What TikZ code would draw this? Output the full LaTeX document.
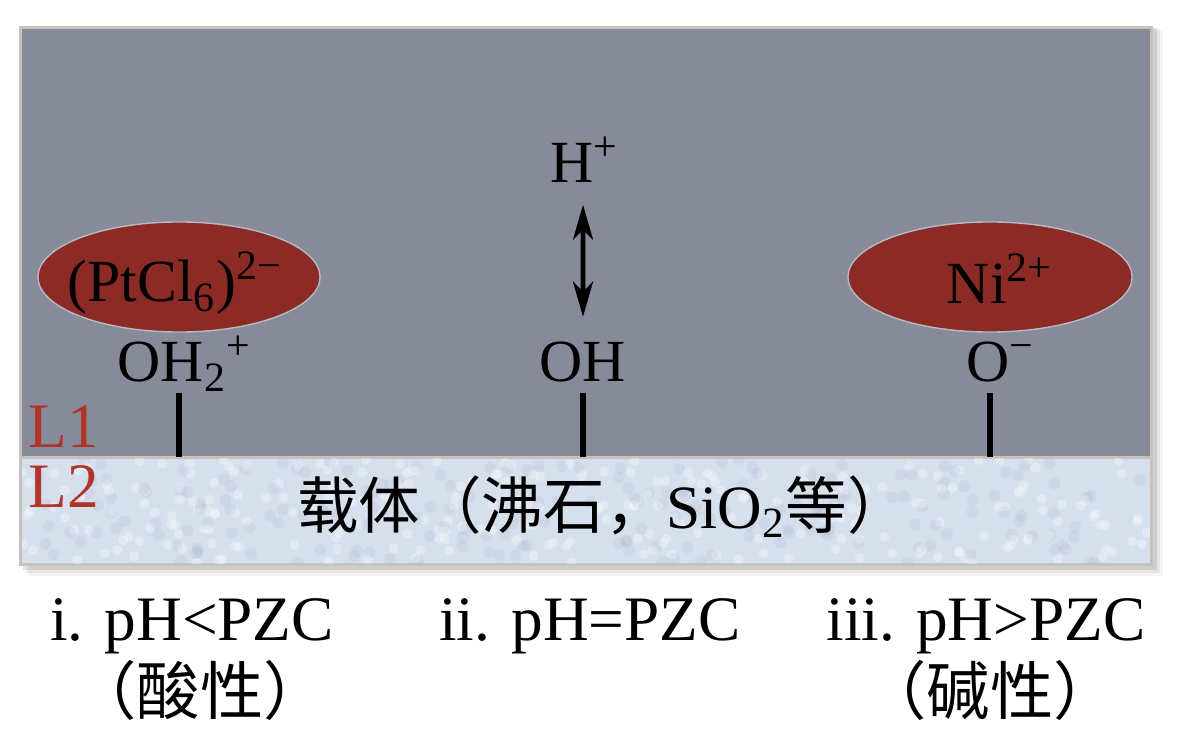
\documentclass[tikz,border=0pt]{standalone}
\usepackage{fontspec}
\setmainfont{Liberation Serif}
\newfontfamily\cjk{Noto Sans CJK SC}
\usetikzlibrary{arrows.meta}
\definecolor{slate}{RGB}{135,139,153}
\definecolor{carrier}{RGB}{214,224,237}
\definecolor{rim}{RGB}{201,194,188}
\definecolor{ionred}{RGB}{140,42,38}
\definecolor{layerred}{RGB}{176,52,40}

\begin{document}
\begin{tikzpicture}[x=.01cm,y=-.01cm,
  >={Stealth[length=.35cm,width=.2cm,inset=.1cm]},
  lab/.style={anchor=base,inner sep=0pt,font=\fontsize{17}{20}\selectfont},
  cond/.style={anchor=base,inner sep=0pt,font=\fontsize{18}{22}\selectfont},
  condcjk/.style={anchor=base,inner sep=0pt,font=\fontsize{18}{22}\cjk},
  layer/.style={anchor=base west,inner sep=0pt,layerred,font=\fontsize{18}{22}\selectfont},
  stick/.style={line width=1.7pt}]
\useasboundingbox (0,0) rectangle (1191,746);
% frame and soft shadow
\foreach \o/\a in {10/.05,7/.08,4/.12}
  \fill[black!70!brown,opacity=\a] (19+\o,26+.5*\o) rectangle (1153+\o,566+\o);
\fill[rim] (19,26) rectangle (1153,566);
\fill[slate] (22,29) rectangle (1150,456);
\fill[carrier] (22,459) rectangle (1150,563);
% grain of the carrier
\pgfmathsetseed{7}
\begin{scope}
\clip (22,459) rectangle (1150,563);
\foreach \i in {1,...,260}
  \fill[white,opacity=.3] (22+1128*rnd,459+104*rnd) circle (.05cm);
\foreach \i in {1,...,200}
  \fill[blue!20!gray,opacity=.07] (22+1128*rnd,459+104*rnd) circle (.06cm);
\end{scope}
% adsorbed ions
\fill[ionred,draw=slate!60!white,line width=.4pt] (179,277) ellipse [x radius=1.41cm,y radius=.55cm];
\fill[ionred,draw=slate!60!white,line width=.4pt] (990,277) ellipse [x radius=1.42cm,y radius=.55cm];
\node[lab] (ptcl) at (175,302) {(PtCl\textsubscript{6})\textsuperscript{2−}};
\node[lab] (ni) at (1000,304) {Ni\textsuperscript{2+}};
% surface groups
\node[lab] (ohtwo) at (185,382) {OH\textsubscript{2}\textsuperscript{+}};
\node[lab] (oh) at (583,382) {OH};
\node[lab] (ominus) at (1001,382) {O\textsuperscript{−}};
\node[lab] (hplus) at (585,183) {H\textsuperscript{+}};
\draw[<->,line width=1.3pt,shorten <=.21cm,shorten >=.25cm] ([xshift=-.02cm]hplus.south) -- (oh.north);
\foreach \n/\x in {1/179,2/583,3/990} {
  \coordinate (top\n) at (\x,393);
  \coordinate (foot\n) at (\x,457);
  \draw[stick] (top\n) -- (foot\n);
}
\node[layer] (lone) at (28,447) {L1};
\node[layer] (ltwo) at (28,508) {L2};
\node[anchor=base,inner sep=0pt,font=\fontsize{17.5}{21}\selectfont] (support) at (603,528)
  {{\cjk 载体（沸石，}SiO\textsubscript{2}{\cjk 等）}};
% conditions
\node[cond] (acid) at (192,640) {i. pH<PZC};
\node[cond] (neutral) at (590,640) {ii. pH=PZC};
\node[cond] (alkali) at (986,640) {iii. pH>PZC};
\node[condcjk] (acidcn) at (200,714) {（酸性）};
\node[condcjk] (alkalicn) at (990,714) {（碱性）};
\end{tikzpicture}
\end{document}
